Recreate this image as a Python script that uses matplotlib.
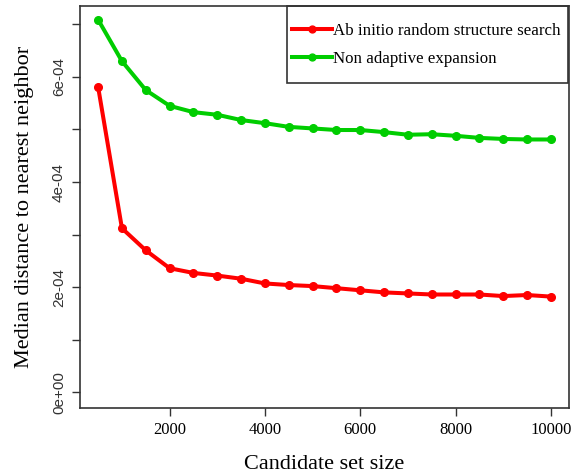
import numpy as np
import matplotlib
matplotlib.use('Agg')
import matplotlib.pyplot as plt
from matplotlib.patches import Rectangle

# candidate set sizes and median nearest-neighbour distances (units of 1e-4)
sizes = list(range(500, 10001, 500))
ab_initio = [5.81, 3.12, 2.70, 2.36, 2.27, 2.22, 2.16, 2.07, 2.04, 2.02,
             1.98, 1.94, 1.90, 1.88, 1.86, 1.86, 1.86, 1.83, 1.85, 1.82]
non_adaptive = [7.09, 6.30, 5.75, 5.45, 5.33, 5.28, 5.18, 5.12, 5.05, 5.02,
                4.99, 4.99, 4.95, 4.90, 4.91, 4.88, 4.84, 4.82, 4.81, 4.81]
labels = ["Ab initio random structure search", "Non adaptive expansion"]
ytick_labels = ["0e+00", "", "2e-04", "", "4e-04", "", "6e-04", ""]
xticks = [2000, 4000, 6000, 8000, 10000]

serif = "Liberation Serif"
sans = "Liberation Sans"

fig = plt.figure(figsize=(5.72, 4.74), dpi=100)
ax = fig.add_axes([80 / 572, 66 / 474, 489 / 572, 402 / 474])

ax.plot(sizes, np.array(ab_initio) * 1e-4, color="#ff0000", lw=2.9,
        marker="o", ms=5.5, label=labels[0])
ax.plot(sizes, np.array(non_adaptive) * 1e-4, color="#00cd00", lw=2.9,
        marker="o", ms=5.5, label=labels[1])

ax.set_xlim(120, 10380)
ax.set_ylim(-0.3e-4, 7.35e-4)

ax.set_xticks(xticks)
ax.set_xticklabels([str(v) for v in xticks], fontfamily=serif, fontsize=12)
ax.set_yticks(np.arange(0, 7.01e-4, 1e-4))
ax.set_yticklabels(ytick_labels, fontfamily=sans, fontsize=11, rotation=90,
                   va="center", color="#333333")
ax.tick_params(length=6, width=1, color="#333333", pad=4)

for s in ax.spines.values():
    s.set_color("#333333")
    s.set_linewidth(1.2)

ax.set_xlabel("Candidate set size", fontfamily=serif, fontsize=16, labelpad=12)
ax.set_ylabel("Median distance to nearest neighbor", fontfamily=serif,
              fontsize=16, labelpad=13)

# R-style legend: box drawn separately so padding can differ per side
leg = ax.legend(loc="center left", bbox_to_anchor=(0.4335, 0.903),
                prop={"family": serif, "size": 12.2}, frameon=False,
                borderaxespad=0, borderpad=0, handlelength=2.35,
                handletextpad=0.1, labelspacing=0.7, markerscale=0.9)
ax.add_patch(Rectangle((0.4233, 0.8085), 0.5746, 0.1915, transform=ax.transAxes,
                       fill=False, edgecolor="#333333", lw=1.2, zorder=5,
                       clip_on=False))

fig.savefig("out.png", dpi=100)
